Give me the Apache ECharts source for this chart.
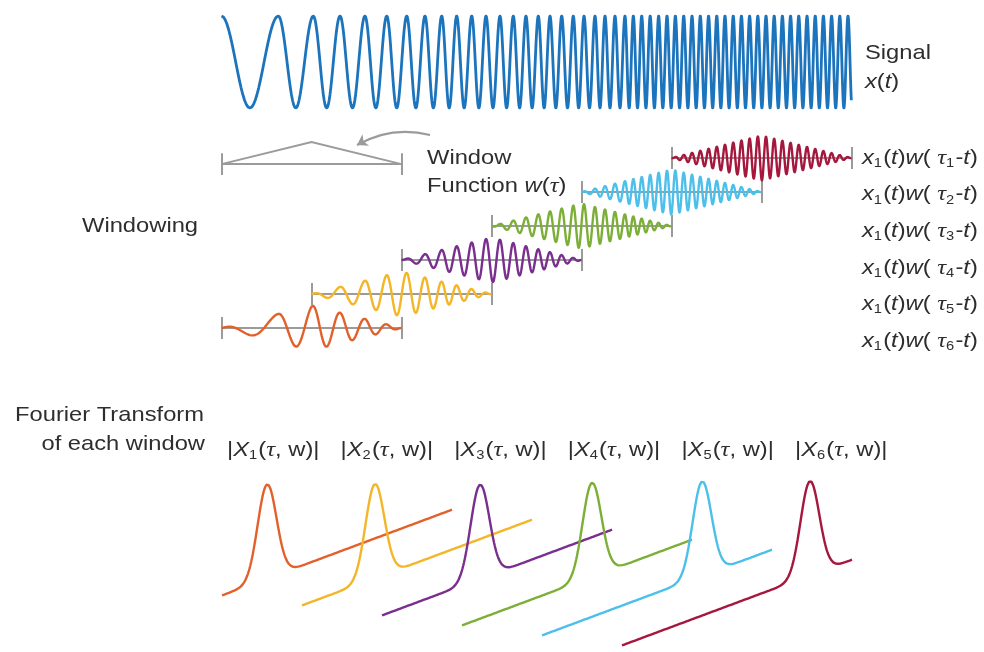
<!DOCTYPE html>
<html><head><meta charset="utf-8">
<script src="https://cdn.jsdelivr.net/npm/echarts@6/dist/echarts.min.js"></script>
<style>html,body{margin:0;padding:0;background:#fff}#c{width:984px;height:652px}</style>
</head><body><div id="c"></div>
<script>
// ================= DATA =================
// Peak times of the chirp signal x(t), in window-hop units (t = 0 .. 7)
const signalPeakTimes = [0.000, 0.631, 1.020, 1.317, 1.594, 1.836, 2.058, 2.261, 2.447, 2.613,
  2.780, 2.939, 3.094, 3.242, 3.383, 3.520, 3.650, 3.780, 3.909, 4.028, 4.150, 4.261, 4.372,
  4.483, 4.576, 4.669, 4.763, 4.857, 4.950, 5.043, 5.136, 5.228, 5.320, 5.412, 5.503, 5.594,
  5.686, 5.777, 5.868, 5.959, 6.050, 6.141, 6.232, 6.323, 6.414, 6.506, 6.597, 6.688, 6.779,
  6.870, 6.961, 7.052];
const signalEnd = 7.0;
// Window centres tau_1 .. tau_6 (tau_1 is the top row, tau_6 the bottom row)
const windowCenters = [6, 5, 4, 3, 2, 1];
const windowHalfWidth = 1;
const windowGain = 0.66;             // windowed amplitude relative to row spacing
// Window function w(tau) drawn on its own: start, apex, end
const windowFunction = [[0, 0], [1, 1], [2, 0]];
// Spectra |X_k(tau,w)|: peak position along the frequency axis (0..1) and magnitude
const spectrumPeakFreq = [0.196, 0.317, 0.426, 0.565, 0.696, 0.817];
const spectrumPeakMag = [1, 1, 1, 1, 1, 1];
const spectrumPeakWidth = 0.041;
const rowIndices = ['1', '2', '3', '4', '5', '6'];

// ================= STYLE =================
const signalColor = '#1c74bd';
const rowColors = ['#a5173d', '#4cc0ea', '#7caf37', '#7a2e8e', '#f2b628', '#e2612b']; // tau1..tau6
const specColors = ['#e2612b', '#f2b628', '#7a2e8e', '#7caf37', '#4cc0ea', '#a5173d'];  // X1..X6
const gray = '#9b9b9b';
const textColor = '#2e2e2e';
const SX = 1.13;

// ================= BUILD =================
const N = 32;
const signal = [];
for (let i = 0; i < signalPeakTimes.length - 1; i++) {
  const a = signalPeakTimes[i], b = signalPeakTimes[i + 1];
  for (let j = 0; j < N; j++) {
    const t = a + (b - a) * j / N;
    if (t > signalEnd) break;
    signal.push([t, Math.cos(2 * Math.PI * j / N)]);
  }
}

const series = [];
series.push({
  type: 'lines', coordinateSystem: 'cartesian2d', xAxisIndex: 0, yAxisIndex: 0, polyline: true,
  data: [{ coords: signal }], silent: true,
  lineStyle: { color: signalColor, width: 2.8, opacity: 1, join: 'round' }, z: 3
});

// brackets + windowed signals
const bracketSegs = [];
const tick = 0.32;
windowCenters.forEach((c, k) => {
  const row = 5 - k;
  const a = c - windowHalfWidth, b = c + windowHalfWidth;
  bracketSegs.push({ coords: [[a, row], [b, row]] });
  bracketSegs.push({ coords: [[a, row - tick], [a, row + tick]] });
  bracketSegs.push({ coords: [[b, row - tick], [b, row + tick]] });
  const pts = [];
  signal.forEach(p => {
    if (p[0] >= a && p[0] <= b) {
      const w = 1 - Math.abs(p[0] - c) / windowHalfWidth;
      pts.push([p[0], row + windowGain * p[1] * w]);
    }
  });
  pts.unshift([a, row]);
  pts.push([b, row]);
  series.push({
    type: 'lines', coordinateSystem: 'cartesian2d', xAxisIndex: 1, yAxisIndex: 1, polyline: true,
    data: [{ coords: pts }], silent: true,
    lineStyle: { color: rowColors[k], width: 2.4, opacity: 1, join: 'round' }, z: 4
  });
});
// window function w(tau)
const wfRow = 4.82, wfH = 0.65;
bracketSegs.push({ coords: [[windowFunction[0][0], wfRow], [windowFunction[2][0], wfRow]] });
bracketSegs.push({ coords: [[windowFunction[0][0], wfRow - tick], [windowFunction[0][0], wfRow + tick]] });
bracketSegs.push({ coords: [[windowFunction[2][0], wfRow - tick], [windowFunction[2][0], wfRow + tick]] });
series.push({
  type: 'lines', coordinateSystem: 'cartesian2d', xAxisIndex: 1, yAxisIndex: 1,
  data: bracketSegs, lineStyle: { color: gray, width: 2, opacity: 1 }, z: 2, silent: true
});
series.push({
  type: 'lines', coordinateSystem: 'cartesian2d', xAxisIndex: 1, yAxisIndex: 1, polyline: true,
  data: [{ coords: windowFunction.map(p => [p[0], wfRow + wfH * p[1]]) }],
  lineStyle: { color: gray, width: 2, opacity: 1 }, z: 2, silent: true
});
// curved arrow
series.push({
  type: 'lines', coordinateSystem: 'cartesian2d', xAxisIndex: 1, yAxisIndex: 1,
  symbol: ['none', 'arrow'], symbolSize: 10,
  data: [{ coords: [[2.317, 5.676], [1.506, 5.382]] }],
  lineStyle: { color: gray, width: 2.2, opacity: 1, curveness: -0.2 }, z: 2, silent: true
});

// spectra in a slanted (pseudo 3-D) frame
const dxPer = 80 / 230, dyPer = -10.5 / 99, slope = 90 / 99;
spectrumPeakFreq.forEach((fp, k) => {
  const pts = [];
  for (let i = 0; i <= 300; i++) {
    const f = i / 300;
    const m = spectrumPeakMag[k] * Math.exp(-0.5 * Math.pow((f - fp) / spectrumPeakWidth, 2));
    pts.push([k * dxPer + f, k * dyPer + f * slope + m]);
  }
  series.push({
    type: 'line', xAxisIndex: 2, yAxisIndex: 2, data: pts, showSymbol: false, symbol: 'none',
    clip: false, lineStyle: { color: specColors[k], width: 2.4 }, z: 3 + k
  });
});

// ================= TEXT =================
const rich = {
  n: { fontFamily: 'Liberation Sans', fontSize: 21, fill: textColor, lineHeight: 28 },
  i: { fontFamily: 'Liberation Sans', fontStyle: 'italic', fontSize: 21, fill: textColor, lineHeight: 28 },
  g: { fontFamily: 'Liberation Serif', fontStyle: 'italic', fontSize: 22, fill: textColor, lineHeight: 28 },
  s: { fontFamily: 'Liberation Sans', fontSize: 13, fill: textColor, padding: [11, 1, 0, 0] }
};
function txt(x, y, text, align) {
  return {
    type: 'text', x: x, y: y, scaleX: SX, silent: true, z: 10,
    style: { text: text, rich: rich, align: align || 'left', verticalAlign: 'middle',
      font: '21px "Liberation Sans"', fill: textColor }
  };
}
const graphics = [
  txt(865, 53, '{n|Signal}'),
  txt(865, 82, '{i|x}{n|(}{i|t}{n|)}'),
  txt(427, 158, '{n|Window}'),
  txt(427, 186, '{n|Function }{i|w}{n|(}{g|τ}{n|)}'),
  txt(82, 226, '{n|Windowing}'),
  txt(15, 415, '{n|Fourier Transform}'),
  txt(205, 444, '{n|of each window}', 'right')
];
rowIndices.forEach((r, k) => {
  graphics.push(txt(862, 158 + 36.6 * k, '{i|x}{s|1}{n|(}{i|t}{n|)}{i|w}{n|( }{g|τ}{s|' + r + '}{n|-}{i|t}{n|)}'));
  graphics.push(txt(227 + 113.6 * k, 450, '{n||}{i|X}{s|' + r + '}{n|(}{g|τ}{n|, w)|}'));
});

const chart = echarts.init(document.getElementById('c'));
chart.setOption({
  animation: false,
  backgroundColor: '#ffffff',
  grid: [
    { left: 221.5, top: 16, width: 630, height: 92 },
    { left: 221.5, top: 90, width: 630, height: 272 },
    { left: 222, top: 463.4, width: 690, height: 198 }
  ],
  xAxis: [
    { type: 'value', gridIndex: 0, min: 0, max: 7, show: false },
    { type: 'value', gridIndex: 1, min: 0, max: 7, show: false },
    { type: 'value', gridIndex: 2, min: 0, max: 3, show: false }
  ],
  yAxis: [
    { type: 'value', gridIndex: 0, min: -1, max: 1, show: false },
    { type: 'value', gridIndex: 1, min: -1, max: 7, show: false },
    { type: 'value', gridIndex: 2, min: -0.6, max: 1.4, show: false }
  ],
  series: series,
  graphic: graphics
});
</script>
</body></html>
